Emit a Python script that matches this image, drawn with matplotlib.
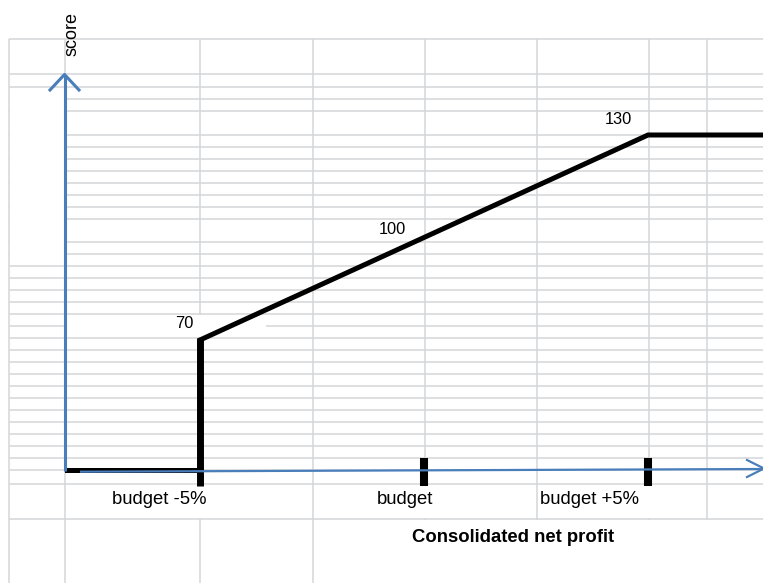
import matplotlib
matplotlib.use("Agg")
import matplotlib.pyplot as plt
from matplotlib.patches import Rectangle

# ---------------- data ----------------
categories = ["budget -5%", "budget", "budget +5%"]
scores = [70, 100, 130]
score_labels = ["70", "100", "130"]
x_title = "Consolidated net profit"
y_title = "score"

# ---------------- layout (pixels) ----------------
W, H = 763, 583
GRID = "#d4d6d8"
BLUE = "#4a7ebb"
FONT = ["Liberation Sans", "DejaVu Sans"]

row_lines = [38.5, 74, 86.5, 98.5, 110.5, 134.5, 146.5, 158.5, 170.5, 182.5,
             194.5, 206.7, 218.7, 241.7, 253.5, 265.7, 277.8, 290, 302, 314,
             326, 338, 350, 362, 374, 386, 398, 410, 422, 434, 446, 458, 470,
             483.5, 518.5]
col_lines = [9, 65, 200, 312.5, 424.5, 537, 648.5, 707]
# white boxes (text boxes of the sheet) hiding parts of the grid
masks = [(10, 87.5, 54, 171),        # left column blank area
         (66, 315, 200, 22),         # "70" box
         (70, 485, 236, 32.5),       # "budget -5%" box
         (318, 485, 212, 32.5),      # "budget" box
         (545, 485, 155, 32.5),      # "budget +5%" box
         (318, 520, 445, 63)]        # x title box

X0_PX, DX_PX = 200, 224          # pixel of first category, spacing
Y0_PX, PX_PER_UNIT = 340, 3.4167  # pixel of first score, pixels per score unit

fig = plt.figure(figsize=(W / 100, H / 100), dpi=100)
bg = fig.add_axes([0, 0, 1, 1])
bg.set_xlim(0, W)
bg.set_ylim(H, 0)
bg.axis("off")

# spreadsheet grid
bg.hlines(row_lines, 9, W, color=GRID, lw=1.1, zorder=1)
bg.vlines(col_lines, 38.5, H, color=GRID, lw=1.1, zorder=1)
for (x, y, w, h) in masks:
    bg.add_patch(Rectangle((x, y), w, h, facecolor="white", edgecolor="none", zorder=2))

# data axes overlay
ax = fig.add_axes([0, 0, 1, 1], facecolor="none")
ax.axis("off")
ax.set_xlim(-X0_PX / DX_PX, (W - X0_PX) / DX_PX)
ax.set_ylim(scores[0] - (H - Y0_PX) / PX_PER_UNIT, scores[0] + Y0_PX / PX_PER_UNIT)


def px_x(p):
    return (p - X0_PX) / DX_PX


def px_y(p):
    return scores[0] - (p - Y0_PX) / PX_PER_UNIT


base = px_y(470.5)
tick_lo, tick_hi = px_y(485.5), px_y(458)
xs = list(range(len(categories)))

# score curve
line_x = [px_x(65), xs[0], xs[0]] + xs + [px_x(W + 5)]
line_y = [base, base, scores[0]] + scores + [scores[-1]]
ax.plot(line_x, line_y, color="black", lw=3.6, solid_joinstyle="miter",
        solid_capstyle="butt", zorder=5)
# thick vertical step at first category
ax.plot([xs[0], xs[0]], [tick_lo, scores[0] + 0.7], color="black", lw=5.0,
        solid_capstyle="butt", zorder=5)
# tick marks on the x axis
for x in xs[1:]:
    ax.plot([x, x], [tick_lo, tick_hi], color="black", lw=5.8,
            solid_capstyle="butt", zorder=5)

# blue axes with open arrow heads
ax.plot([px_x(65), px_x(65)], [base, px_y(75)], color=BLUE, lw=2.2, zorder=6,
        solid_capstyle="butt")
ax.plot([px_x(50), px_x(64.5), px_x(79)], [px_y(90), px_y(74.5), px_y(90)],
        color=BLUE, lw=2.2, zorder=6)
ax.plot([px_x(80), px_x(763)], [px_y(471.7), px_y(469)], color=BLUE, lw=1.6,
        zorder=6, solid_capstyle="butt")
ax.plot([px_x(747), px_x(764), px_x(747)], [px_y(460), px_y(468.5), px_y(477)],
        color=BLUE, lw=1.6, zorder=6)

# value labels
val_offsets = [(-7, 16), (-18, 8), (-16, 15)]
for x, s, lab, off in zip(xs, scores, score_labels, val_offsets):
    ax.annotate(lab, (x, s), xytext=off, textcoords="offset pixels",
                ha="right", va="center", fontsize=11.8, family=FONT, zorder=7)

# category labels
cat_offsets = [-40.5, -19, -58]
for x, lab, off in zip(xs, categories, cat_offsets):
    ax.annotate(lab, (x, base), xytext=(off, -29.5), textcoords="offset pixels",
                ha="center", va="center", fontsize=13.3, family=FONT, zorder=7)

# axis titles
bg.text(513.5, 537.5, x_title, ha="center", va="center", fontsize=13.3,
        fontweight="bold", family=FONT, zorder=7)
bg.text(72, 33.5, y_title, ha="center", va="center", rotation=90,
        fontsize=13, family=FONT, zorder=7)

fig.savefig("out.png", dpi=100, facecolor="white")
